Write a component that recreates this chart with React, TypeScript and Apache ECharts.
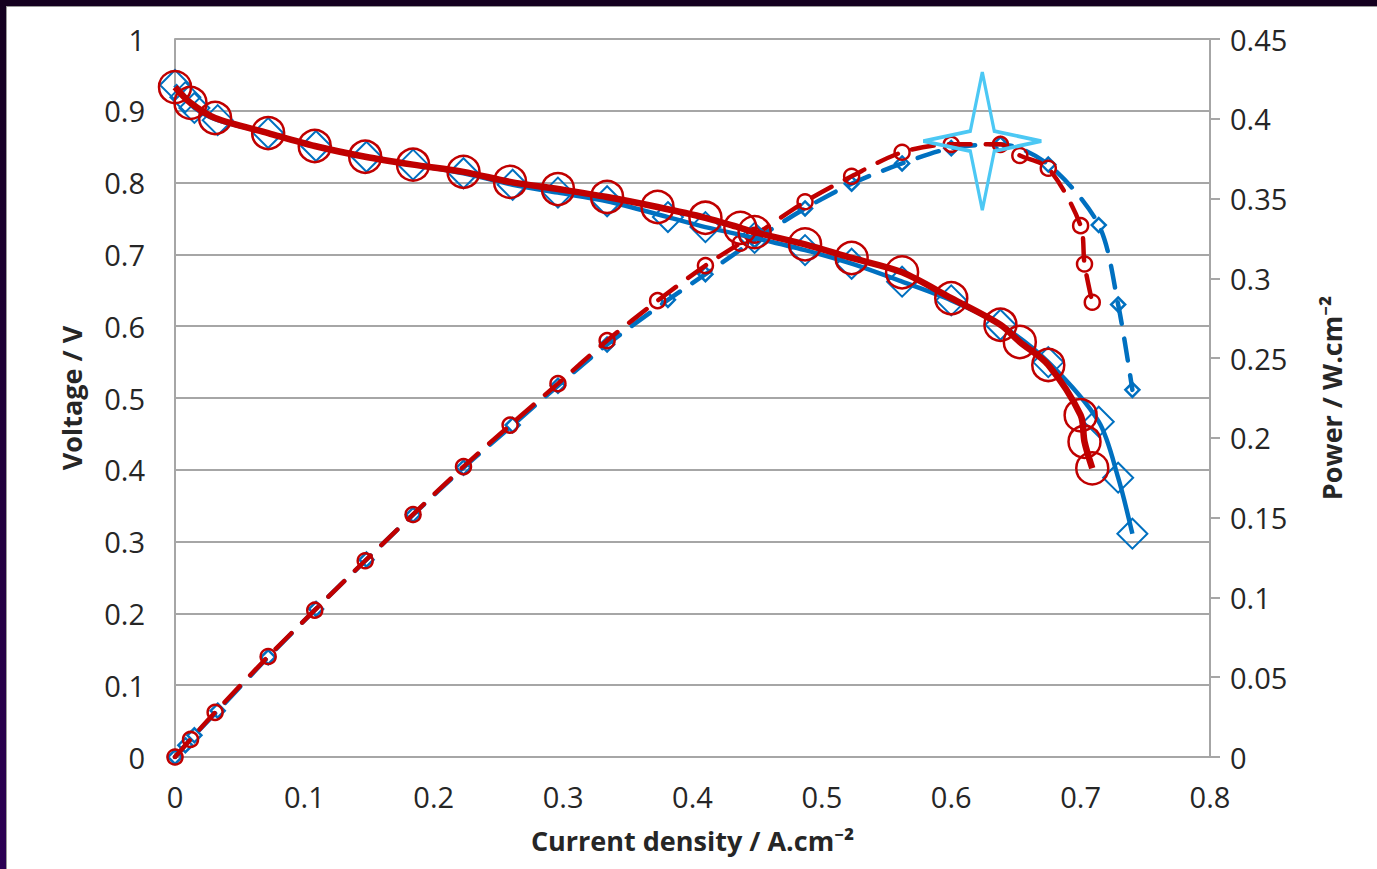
import React, { useEffect, useRef } from "react";
import * as echarts from "echarts";

// Red cell (circles)
const redCurrent = [0, 0.012, 0.031, 0.072, 0.108, 0.147, 0.184, 0.223, 0.259, 0.296, 0.334, 0.373, 0.41, 0.437, 0.448, 0.487, 0.523, 0.562, 0.6, 0.638, 0.653, 0.675, 0.7, 0.703, 0.709];
const redVoltage = [0.933, 0.911, 0.89, 0.869, 0.851, 0.836, 0.825, 0.815, 0.801, 0.791, 0.78, 0.766, 0.751, 0.737, 0.731, 0.714, 0.695, 0.675, 0.639, 0.602, 0.578, 0.546, 0.476, 0.439, 0.402];
const redPower = [0, 0.011, 0.028, 0.063, 0.092, 0.123, 0.152, 0.182, 0.208, 0.234, 0.261, 0.286, 0.308, 0.322, 0.327, 0.348, 0.364, 0.379, 0.384, 0.384, 0.377, 0.369, 0.333, 0.309, 0.285];

// Blue cell (diamonds)
const blueCurrent = [0, 0.008, 0.015, 0.033, 0.072, 0.109, 0.148, 0.184, 0.223, 0.261, 0.296, 0.334, 0.381, 0.41, 0.448, 0.487, 0.523, 0.562, 0.6, 0.638, 0.675, 0.714, 0.729, 0.74];
const blueVoltage = [0.936, 0.919, 0.904, 0.887, 0.869, 0.851, 0.836, 0.825, 0.813, 0.797, 0.786, 0.774, 0.752, 0.738, 0.723, 0.706, 0.687, 0.662, 0.636, 0.602, 0.55, 0.467, 0.389, 0.311];
const bluePower = [0, 0.0074, 0.0136, 0.029, 0.0626, 0.0928, 0.1237, 0.1518, 0.1813, 0.208, 0.2327, 0.2585, 0.2865, 0.3026, 0.3239, 0.3438, 0.3593, 0.372, 0.3816, 0.3841, 0.3713, 0.3334, 0.2836, 0.2301];

// Highlighted maximum power point (star)
const starPoint = [0.624, 0.386];

const RED = "#c00000";
const BLUE = "#0070c0";
const GRID = "#a6a6a6";
const TEXT = "#262626";
const FONT = "'Open Sans', 'Noto Sans', sans-serif";

const pairs = (xs: number[], ys: number[]) => xs.map((x, i) => [x, ys[i]]);

export default function App() {
  const ref = useRef<HTMLDivElement>(null);

  useEffect(() => {
    if (!ref.current) return;
    const chart = echarts.init(ref.current, null, { renderer: "svg" });
    const hollow = (c: string, w: number) => ({ color: "rgba(0,0,0,0)", borderColor: c, borderWidth: w, opacity: 1 });
    const titleStyle = { fontFamily: FONT, fontSize: 27, fontWeight: "bold", color: TEXT };
    const tickStyle = { fontFamily: FONT, fontSize: 29, color: TEXT };
    chart.setOption({
      animation: false,
      backgroundColor: "transparent",
      textStyle: { fontFamily: FONT },
      grid: { left: 168, top: 32, right: 167, bottom: 112, containLabel: false },
      xAxis: {
        type: "value",
        min: 0,
        max: 0.8,
        interval: 0.1,
        name: "Current density / A.cm⁻²",
        nameLocation: "middle",
        nameGap: 70,
        nameTextStyle: titleStyle,
        axisLine: { show: true, lineStyle: { color: GRID, width: 2 } },
        axisTick: { show: false },
        splitLine: { show: false },
        axisLabel: { ...tickStyle, margin: 25 },
      },
      yAxis: [
        {
          type: "value",
          min: 0,
          max: 1,
          interval: 0.1,
          position: "left",
          name: "Voltage / V",
          nameLocation: "middle",
          nameGap: 90,
          nameTextStyle: titleStyle,
          axisLine: { show: true, lineStyle: { color: GRID, width: 2 } },
          axisTick: { show: false },
          splitLine: { show: true, lineStyle: { color: GRID, width: 2 } },
          axisLabel: { ...tickStyle, margin: 30 },
        },
        {
          type: "value",
          min: 0,
          max: 0.45,
          interval: 0.05,
          position: "right",
          name: "Power / W.cm⁻²",
          nameLocation: "middle",
          nameGap: 108,
          nameTextStyle: titleStyle,
          axisLine: { show: true, lineStyle: { color: GRID, width: 2 } },
          axisTick: { show: true, inside: false, length: 10, lineStyle: { color: GRID, width: 2 } },
          splitLine: { show: false },
          axisLabel: { ...tickStyle, margin: 20 },
        },
      ],
      series: [
        {
          name: "Blue power",
          type: "line",
          yAxisIndex: 1,
          smooth: 0.3,
          data: pairs(blueCurrent, bluePower),
          symbol: "diamond",
          symbolSize: 14,
          itemStyle: hollow(BLUE, 2.5),
          lineStyle: { color: BLUE, width: 4.5, type: [22, 15], cap: "round" },
          z: 2,
        },
        {
          name: "Red power",
          type: "line",
          yAxisIndex: 1,
          smooth: 0.3,
          data: pairs(redCurrent, redPower),
          symbol: "circle",
          symbolSize: 15,
          itemStyle: hollow(RED, 2.5),
          lineStyle: { color: RED, width: 4.5, type: [22, 15], cap: "round" },
          z: 3,
        },
        {
          name: "Blue voltage",
          type: "line",
          yAxisIndex: 0,
          smooth: 0.3,
          data: pairs(blueCurrent, blueVoltage),
          symbol: "diamond",
          symbolSize: 30,
          itemStyle: hollow(BLUE, 2),
          lineStyle: { color: BLUE, width: 4.5 },
          z: 4,
        },
        {
          name: "Red voltage",
          type: "line",
          yAxisIndex: 0,
          smooth: 0.3,
          data: pairs(redCurrent, redVoltage),
          symbol: "circle",
          symbolSize: 32,
          itemStyle: hollow(RED, 2.5),
          lineStyle: { color: RED, width: 6.5 },
          z: 5,
        },
        {
          name: "Maximum power",
          type: "scatter",
          yAxisIndex: 1,
          data: [starPoint],
          symbol: "path://M0,-69 L12,-10 L59,0 L12,10 L0,69 L-12,10 L-59,0 L-12,-10 Z",
          symbolSize: [118, 138],
          itemStyle: { color: "rgba(255,255,255,0)", borderColor: "#4cc8f4", borderWidth: 3.5, opacity: 1 },
          z: 6,
        },
      ],
    });
    return () => chart.dispose();
  }, []);

  return (
    <div
      style={{
        position: "fixed",
        left: 0,
        top: 0,
        width: 1377,
        height: 869,
        background: "linear-gradient(180deg, #14001f 0%, #2c0054 100%)",
      }}
    >
      <div
        style={{
          position: "absolute",
          left: 6,
          top: 6,
          width: 1371,
          height: 863,
          background: "#ffffff",
          borderLeft: "1px solid #9a9a9a",
          borderTop: "1px solid #9a9a9a",
          boxSizing: "border-box",
        }}
      >
        <div ref={ref} style={{ position: "absolute", left: 0, top: 0, width: 1370, height: 862 }} />
      </div>
    </div>
  );
}
